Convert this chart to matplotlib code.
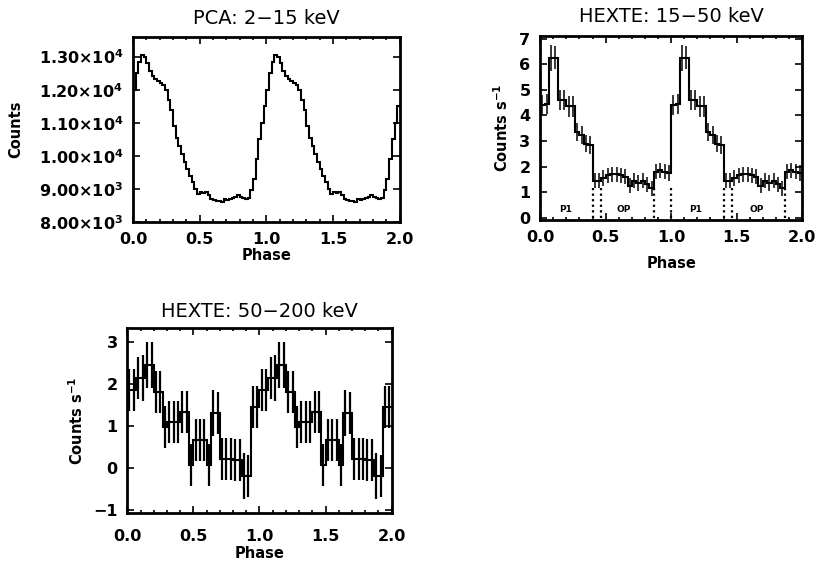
import numpy as np
import matplotlib
matplotlib.use("Agg")
import matplotlib.pyplot as plt
from matplotlib.ticker import MultipleLocator

plt.rcParams['font.family'] = 'DejaVu Sans'
plt.rcParams['mathtext.default'] = 'bf'

# pulse profiles, one cycle each (plotted twice, phase 0-2)
pca_counts = [12000, 12500, 12850, 13050, 13000, 12800, 12550, 12400, 12330, 12250,
              12200, 12130, 12000, 11700, 11400, 10900, 10550, 10300, 10050, 9800,
              9600, 9400, 9200, 9000, 8850, 8900, 8880, 8900, 8800, 8680,
              8650, 8640, 8620, 8600, 8680, 8650, 8700, 8720, 8760, 8800,
              8750, 8720, 8700, 8720, 8950, 9300, 9900, 10500, 11000, 11500]

hexte_lo_rate = [4.4, 4.45, 6.25, 6.25, 4.6, 4.6, 4.35, 4.35, 3.35, 3.25,
                 2.9, 2.83, 1.45, 1.45, 1.55, 1.65, 1.7, 1.7, 1.65, 1.6,
                 1.25, 1.45, 1.35, 1.45, 1.3, 1.15, 1.8, 1.85, 1.8, 1.75]
hexte_lo_err = [0.4, 0.4, 0.5, 0.45, 0.4, 0.4, 0.4, 0.4, 0.35, 0.35,
                0.35, 0.35, 0.3, 0.3, 0.3, 0.3, 0.3, 0.3, 0.3, 0.3,
                0.3, 0.3, 0.3, 0.3, 0.3, 0.3, 0.3, 0.3, 0.3, 0.3]

hexte_hi_rate = [1.85, 1.85, 2.15, 2.15, 2.45, 2.45, 1.8, 1.8, 0.97, 1.1,
                 1.1, 1.1, 1.34, 1.34, 0.06, 0.66, 0.66, 0.66, 0.06, 1.3,
                 1.3, 0.22, 0.22, 0.22, 0.2, 0.2, -0.2, -0.2, 1.46, 1.46]
hexte_hi_err = [0.5, 0.5, 0.5, 0.55, 0.55, 0.55, 0.5, 0.5, 0.5, 0.5,
                0.5, 0.5, 0.5, 0.5, 0.5, 0.5, 0.5, 0.5, 0.5, 0.55,
                0.5, 0.5, 0.5, 0.5, 0.5, 0.5, 0.55, 0.5, 0.5, 0.5]

phase_ticks = [0.0, 0.5, 1.0, 1.5, 2.0]
pca_ticks = [8000, 9000, 10000, 11000, 12000, 13000]
pca_ticklabels = [r'8.00$\times$10$^3$', r'9.00$\times$10$^3$', r'1.00$\times$10$^4$',
                  r'1.10$\times$10$^4$', r'1.20$\times$10$^4$', r'1.30$\times$10$^4$']
region_lines = [0.4, 0.467, 0.867, 1.0, 1.4, 1.467, 1.867]
region_names = ['P1', 'OP', 'P1', 'OP']
region_pos = [0.19, 0.64, 1.19, 1.65]


def profile(ax, vals, err=None, elw=1.3):
    vals = np.tile(vals, 2)
    edges = np.linspace(0, 2, len(vals) + 1)
    ax.stairs(vals, edges, color='k', lw=1.5, baseline=None)
    if err is not None:
        centers = 0.5 * (edges[1:] + edges[:-1])
        ax.errorbar(centers, vals, yerr=np.tile(err, 2), fmt='none',
                    ecolor='k', elinewidth=elw, capsize=0)


def style(ax, title, ylabel, ypad, xpad, xlabpad, tpad):
    ax.set_xlim(0, 2)
    ax.set_xticks(phase_ticks)
    ax.set_xticklabels(['%.1f' % t for t in phase_ticks])
    ax.xaxis.set_minor_locator(MultipleLocator(0.1))
    ax.tick_params(which='both', direction='in', top=True, right=True,
                   labelsize=11.5, width=1.2, pad=7)
    ax.tick_params(axis='x', pad=xpad)
    ax.tick_params(which='major', length=5)
    ax.tick_params(which='minor', length=2.5)
    for lab in ax.get_xticklabels() + ax.get_yticklabels():
        lab.set_fontweight('bold')
    for s in ax.spines.values():
        s.set_linewidth(2)
    ax.set_title(title, fontsize=14, pad=tpad)
    ax.set_xlabel('Phase', fontsize=10.5, fontweight='bold', labelpad=xlabpad)
    ax.set_ylabel(ylabel, fontsize=10.5, fontweight='bold', labelpad=ypad)


fig = plt.figure(figsize=(8.16, 5.66), dpi=100)

ax1 = fig.add_axes([0.163, 0.608, 0.327, 0.327])
profile(ax1, pca_counts)
ax1.set_ylim(8000, 13600)
ax1.set_yticks(pca_ticks)
ax1.set_yticklabels(pca_ticklabels)
style(ax1, 'PCA: 2\u221215 keV', 'Counts', 11, 7, 1, 9)

ax2 = fig.add_axes([0.662, 0.611, 0.321, 0.325])
profile(ax2, hexte_lo_rate, hexte_lo_err, elw=1.1)
ax2.vlines(region_lines, 0, 1.25, colors='k', linestyles=(0, (1, 1.5)), lw=1.6)
for name, x in zip(region_names, region_pos):
    ax2.text(x, 0.33, name, fontsize=6.5, fontweight='bold', ha='center', va='center')
ax2.set_ylim(-0.1, 7.1)
ax2.set_yticks(range(0, 8))
style(ax2, 'HEXTE: 15\u221250 keV', 'Counts s$^{-1}$', 6, 7, 8, 10)

ax3 = fig.add_axes([0.156, 0.094, 0.324, 0.326])
profile(ax3, hexte_hi_rate, hexte_hi_err, elw=1.6)
ax3.set_ylim(-1.07, 3.33)
ax3.set_yticks(range(-1, 4))
style(ax3, 'HEXTE: 50\u2212200 keV', 'Counts s$^{-1}$', 5, 12, 1, 8)

fig.savefig('out.png', dpi=100)
